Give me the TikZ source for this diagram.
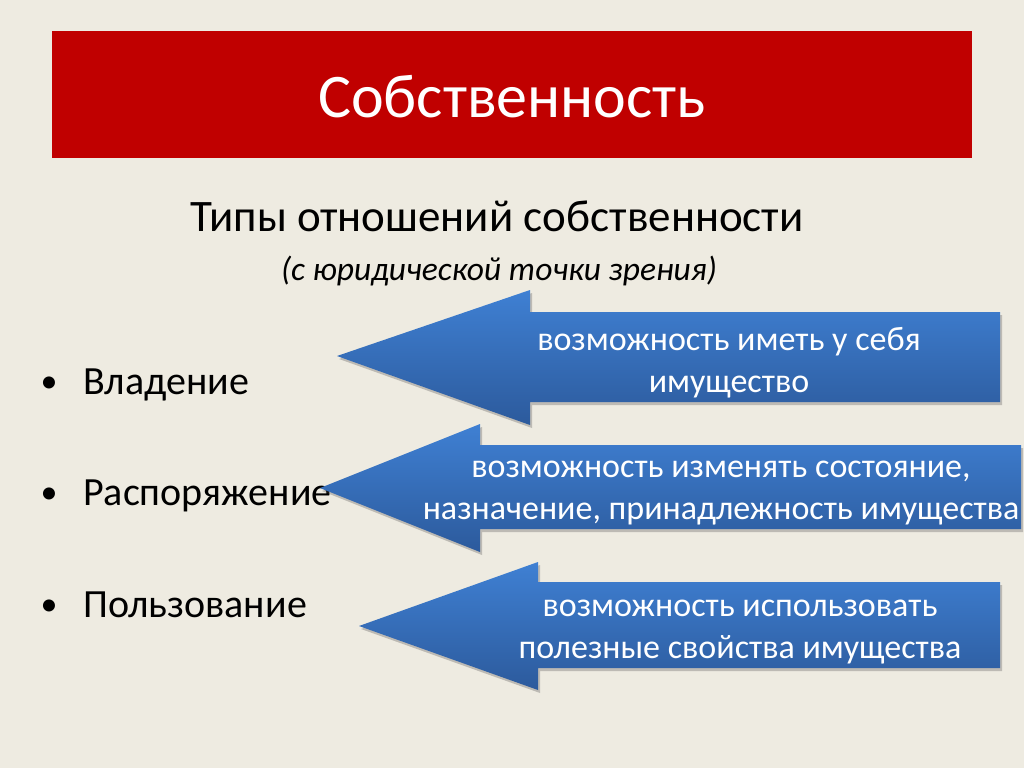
\documentclass[tikz,border=0pt]{standalone}
\usepackage{fontspec}
\setmainfont{Carlito}
\usetikzlibrary{shadows}
\definecolor{bg}{HTML}{EEEBE1}
\definecolor{titlered}{HTML}{C00000}
\definecolor{arrtop}{HTML}{3F80D3}
\definecolor{arrbot}{HTML}{2C5A9C}
\tikzset{
  bluearrow/.style={top color=arrtop, bottom color=arrbot, draw=none,
    drop shadow={opacity=0.3, shadow xshift=2pt, shadow yshift=-3pt, fill=black!70}},
  arrtext/.style={text=white, align=center, font=\fontsize{34}{42}\selectfont, inner sep=0pt},
  bullettext/.style={anchor=base west, font=\fontsize{40}{48}\selectfont, inner sep=0pt, text=black},
  bulletdot/.style={anchor=base, font=\fontsize{34}{40}\selectfont, inner sep=0pt, text=black},
}
\begin{document}
\begin{tikzpicture}[x=1pt,y=-1pt]
\useasboundingbox (0,0) rectangle (1024,768);
\fill[bg] (0,0) rectangle (1024,768);
% title bar
\fill[titlered] (52,31) rectangle (972,158);
\node[text=white, font=\fontsize{62}{74}\selectfont, inner sep=0pt] (title) at (512,97) {Собственность};
% subtitle
\node[font=\fontsize{45}{54}\selectfont, inner sep=0pt, anchor=base] (sub) at (497,231) {Типы отношений собственности};
\node[font=\fontsize{33.5}{40}\selectfont\itshape, inner sep=0pt, anchor=base] (sub2) at (499,280) {(с юридической точки зрения)};
% bullets
\node[bulletdot] (b1dot) at (49,392) {•};
\node[bullettext] (b1) at (83,394) {Владение};
\node[bulletdot] (b2dot) at (49,503) {•};
\node[bullettext] (b2) at (83,505) {Распоряжение};
\node[bulletdot] (b3dot) at (49,615) {•};
\node[bullettext] (b3) at (83,617) {Пользование};
% arrows
\path[bluearrow] (337,356) -- (530,290) -- (530,312) -- (1000,312) -- (1000,402) -- (530,402) -- (530,425) -- cycle;
\node[arrtext] (t1) at (729,363) {возможность иметь у себя\\имущество};
\path[bluearrow] (320,488) -- (480,424) -- (480,445) -- (1021,445) -- (1021,529) -- (480,529) -- (480,552) -- cycle;
\node[arrtext] (t2) at (721,493) {возможность изменять состояние,\\назначение, принадлежность имущества};
\path[bluearrow] (359,626) -- (538,562) -- (538,582) -- (1000,582) -- (1000,668) -- (538,668) -- (538,690) -- cycle;
\node[arrtext] (t3) at (740,632) {возможность использовать\\полезные свойства имущества};
\end{tikzpicture}
\end{document}
